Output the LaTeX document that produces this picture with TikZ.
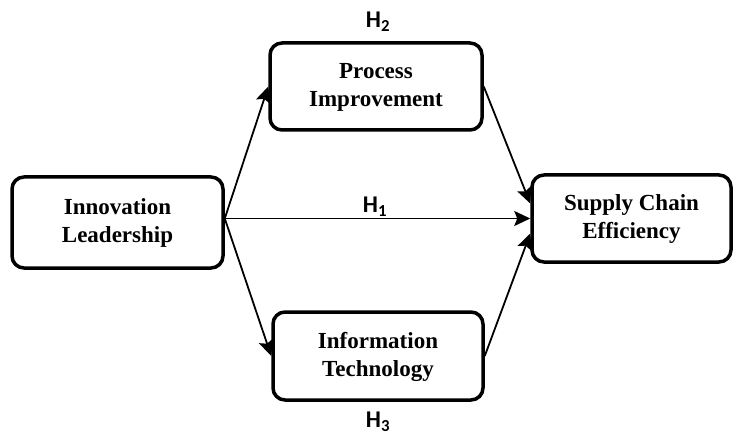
\documentclass[tikz,border=0pt]{standalone}
\usepackage{fontspec}
\setmainfont{Liberation Serif}
\newfontfamily\hfont{Carlito}
\usetikzlibrary{arrows.meta,positioning}
\tikzset{
  var/.style={draw,line width=3.5pt,rounded corners=12pt,align=center,inner sep=0pt,
    text depth=3pt,font=\bfseries\fontsize{23}{28}\selectfont},
  ar/.style={-{Stealth[length=16pt,width=15pt,inset=3pt]},line width=1.8pt},
  hyp/.style={font=\hfont\bfseries\fontsize{24}{28}\selectfont}
}
\begin{document}
\begin{tikzpicture}[x=1pt,y=1pt]
\useasboundingbox (0,0) rectangle (733,437);
\node[var,minimum width=211pt,minimum height=91pt] (lead) at (117.5,214.5) {Innovation\\Leadership};
\node[var,minimum width=212pt,minimum height=87pt] (proc) at (376,350.5) {Process\\Improvement};
\node[var,minimum width=210pt,minimum height=88pt] (info) at (378,81) {Information\\Technology};
\node[var,minimum width=199pt,minimum height=87pt] (supp) at (631.5,218.5) {Supply Chain\\Efficiency};
\coordinate (src) at (lead.east |- supp.west);
\draw[ar] (src) -- (proc.west);
\draw[ar] (src) -- (supp.west);
\draw[ar] (src) -- (info.west);
\draw[ar] (proc.east) -- ([yshift=15pt]supp.west);
\draw[ar] (info.east) -- ([yshift=-15pt]supp.west);
\node[hyp] (h1) at (375,230) {H\textsubscript{1}};
\node[hyp] (h2) at (378,415) {H\textsubscript{2}};
\node[hyp] (h3) at (378,15) {H\textsubscript{3}};
\end{tikzpicture}
\end{document}
